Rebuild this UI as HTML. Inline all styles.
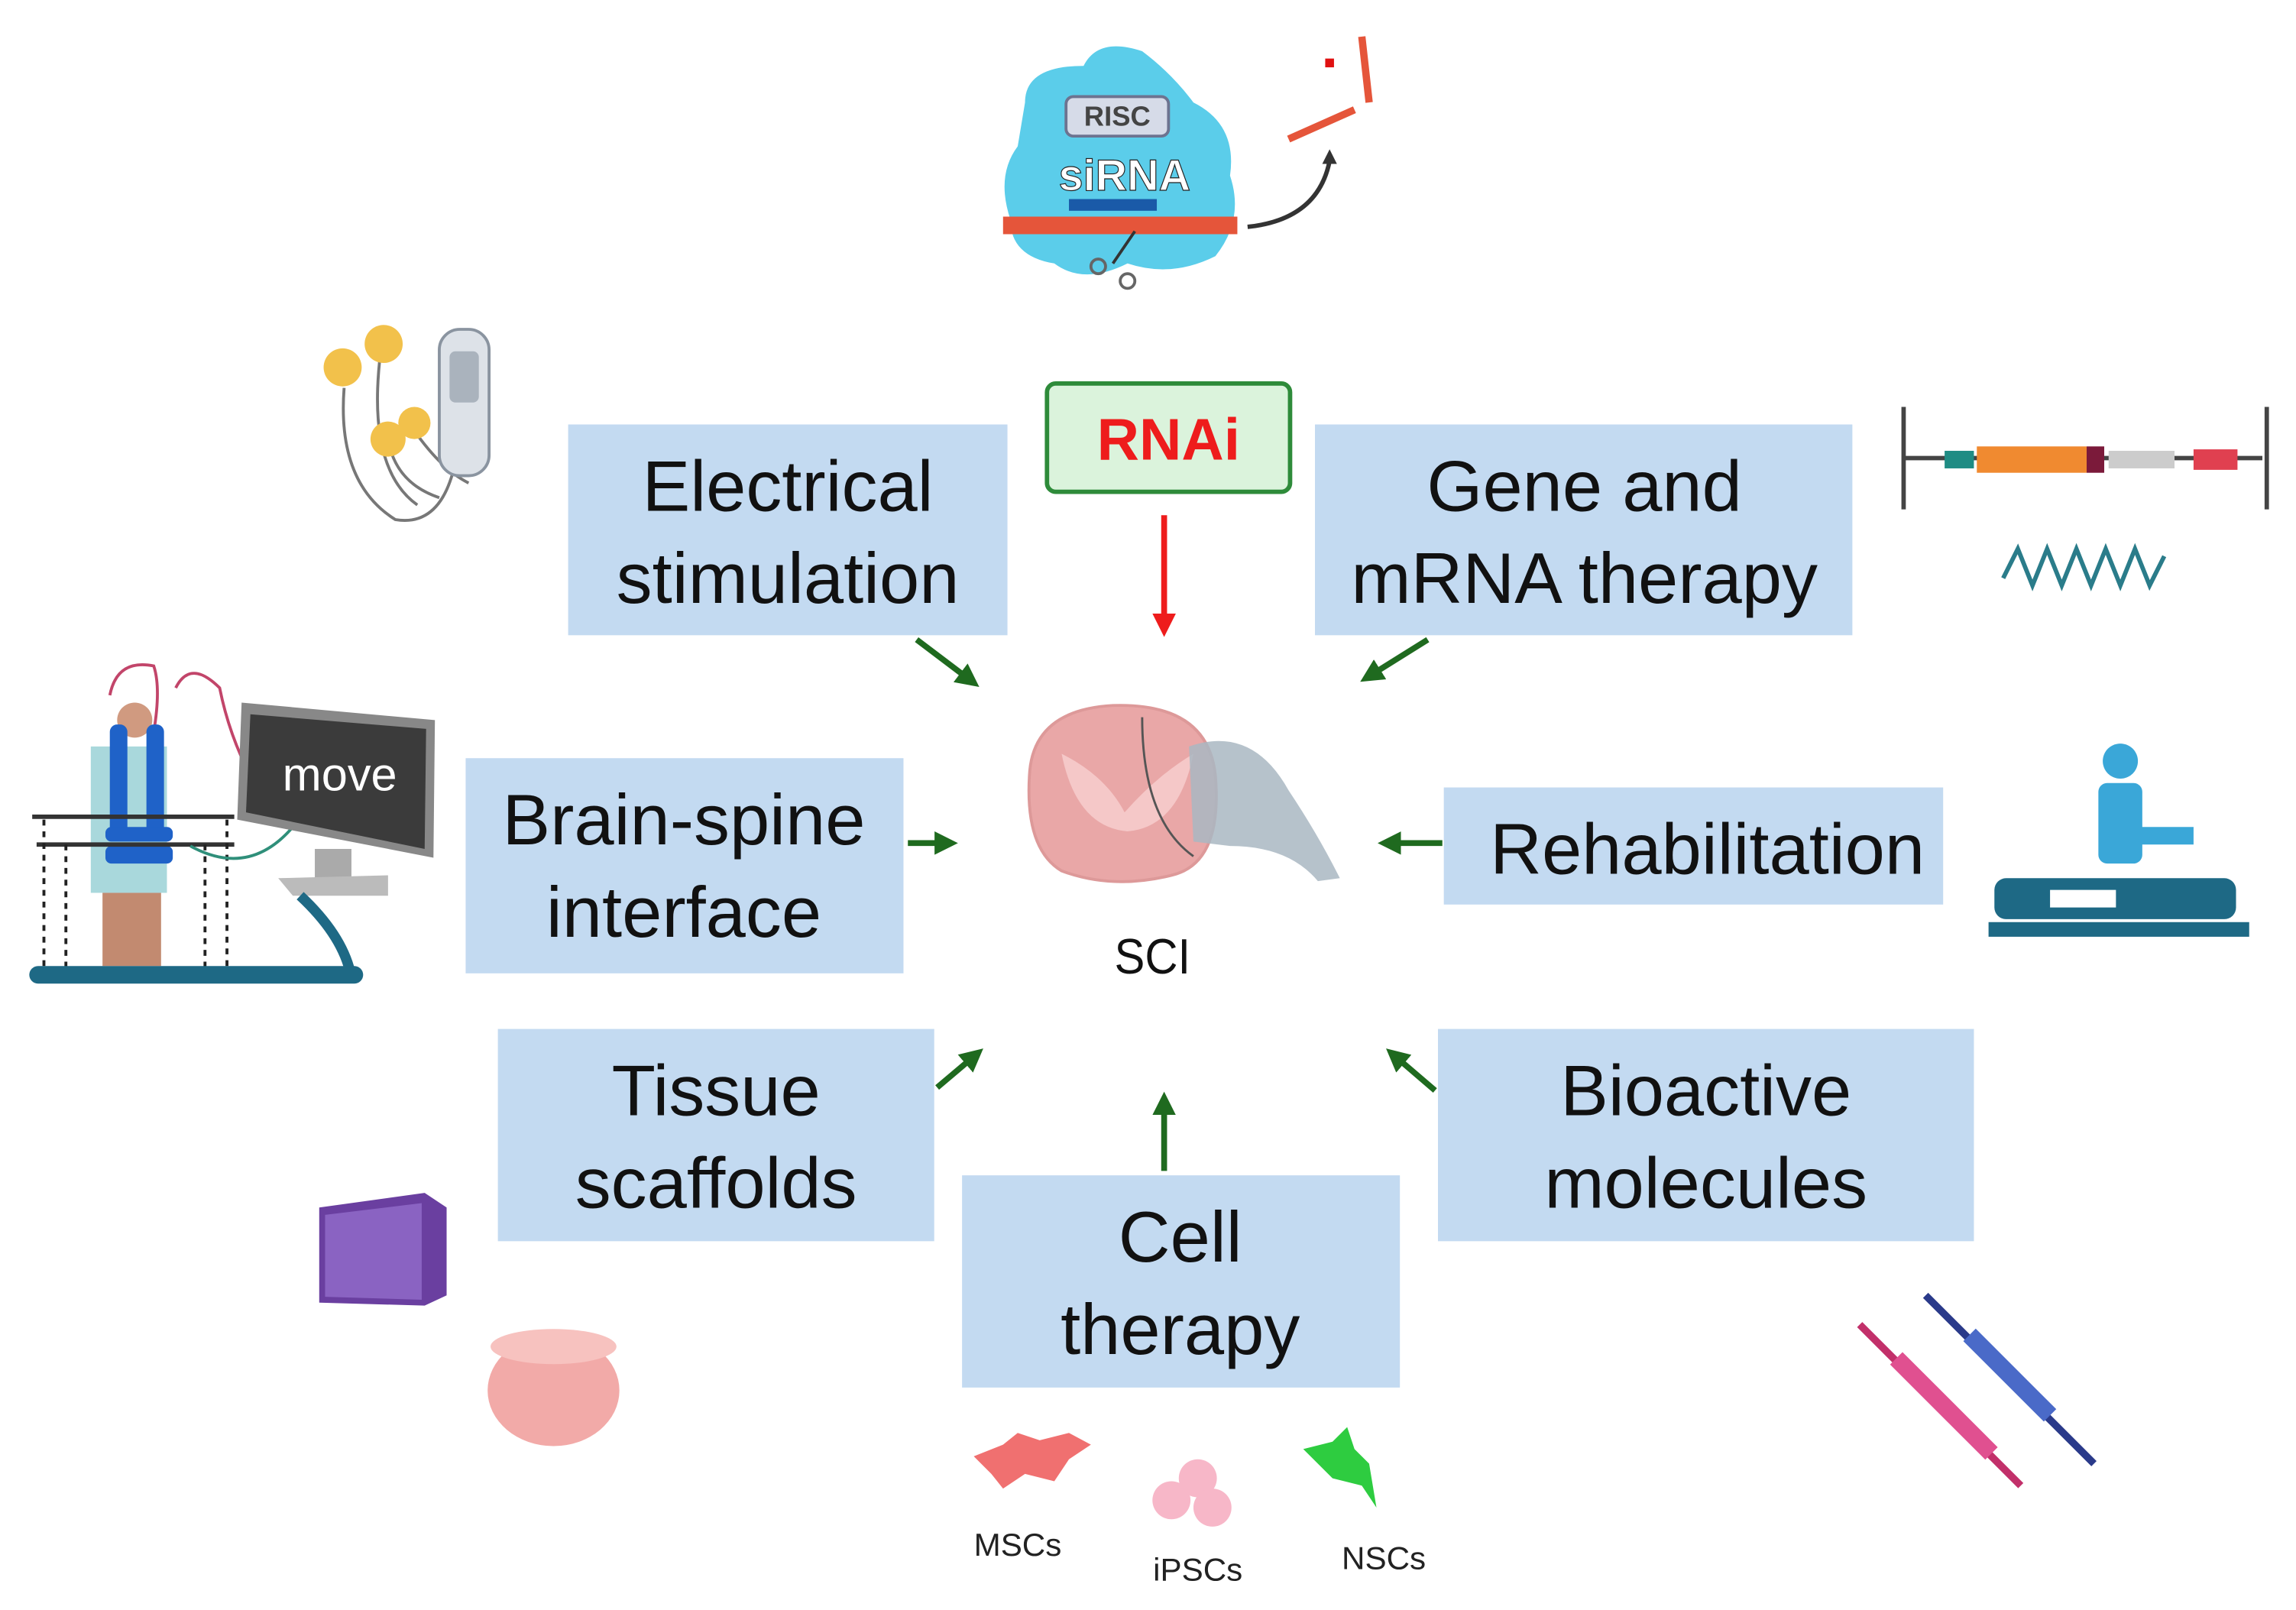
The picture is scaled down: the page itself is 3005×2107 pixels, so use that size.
<!DOCTYPE html>
<html><head><meta charset="utf-8"><style>
html,body{margin:0;padding:0;background:#fff;}
svg{display:block;}
text{font-family:"Liberation Sans",sans-serif;}
</style></head><body>
<svg width="3005" height="2107" viewBox="0 0 3005 2107" xmlns="http://www.w3.org/2000/svg">
<defs>
<marker id="ag" markerWidth="4" markerHeight="4" refX="2.2" refY="2" orient="auto" markerUnits="strokeWidth"><path d="M0,0 L4,2 L0,4 Z" fill="#1f6a1f"/></marker>
<marker id="ar" markerWidth="4" markerHeight="4" refX="2.2" refY="2" orient="auto" markerUnits="strokeWidth"><path d="M0,0 L4,2 L0,4 Z" fill="#ee1c1c"/></marker>
</defs>
<g transform="scale(1.9165 1.9155)">
<!-- siRNA top icon -->
<g>
<path d="M700,70 Q700,45 740,45 Q750,25 780,35 Q800,50 815,70 Q845,85 840,120 Q850,150 830,175 Q800,190 770,180 Q740,195 720,180 Q690,175 690,150 Q680,120 695,100 Z" fill="#5bcdea"/>
<rect x="728" y="66" width="70" height="27" rx="5" fill="#d6dbe8" stroke="#6d7390" stroke-width="2"/>
<text x="763" y="86" font-size="19" font-weight="bold" text-anchor="middle" fill="#444">RISC</text>
<text x="768" y="130" font-size="30" font-weight="bold" text-anchor="middle" fill="#fff" stroke="#222" stroke-width="0.6">siRNA</text>
<rect x="730" y="136" width="60" height="8" fill="#1a5aa8"/>
<rect x="685" y="148" width="160" height="12" fill="#e5553a"/>
<path d="M760,180 L775,158" stroke="#333" stroke-width="2"/>
<circle cx="750" cy="182" r="5" fill="none" stroke="#666" stroke-width="2"/>
<circle cx="770" cy="192" r="5" fill="none" stroke="#666" stroke-width="2"/>
<path d="M852,155 Q900,150 908,110" stroke="#333" stroke-width="3" fill="none"/>
<path d="M903,112 L908,102 L913,112" fill="#333"/>
<path d="M880,95 L925,75 M930,25 L935,70" stroke="#e5553a" stroke-width="5" fill="none"/>
<rect x="905" y="40" width="6" height="6" fill="#e01010"/>
</g>
<!-- electrodes icon -->
<g>
<path d="M235,265 Q230,330 270,355 Q300,360 310,320 M260,240 Q250,320 285,345 M265,300 Q270,330 300,340 M280,290 Q300,320 320,330" stroke="#777" stroke-width="2" fill="none"/>
<circle cx="234" cy="251" r="13" fill="#f2c14b"/><circle cx="262" cy="235" r="13" fill="#f2c14b"/>
<circle cx="265" cy="300" r="12" fill="#f2c14b"/><circle cx="283" cy="289" r="11" fill="#f2c14b"/>
<rect x="300" y="225" width="34" height="100" rx="14" fill="#dde2e8" stroke="#8a94a0" stroke-width="2"/>
<rect x="307" y="240" width="20" height="35" rx="4" fill="#aab3bd"/>
</g>
<!-- brain-spine icon -->
<g>
<path d="M75,475 Q80,450 105,455 Q110,470 105,500 M120,470 Q130,450 150,470 Q160,520 190,560" stroke="#c2456a" stroke-width="2" fill="none"/>
<rect x="62" y="510" width="52" height="100" fill="#a9d8dc"/>
<rect x="70" y="610" width="40" height="50" fill="#c28a70"/>
<circle cx="92" cy="492" r="12" fill="#d09a80"/>
<rect x="75" y="495" width="12" height="75" rx="5" fill="#1f62c8"/>
<rect x="100" y="495" width="12" height="75" rx="5" fill="#1f62c8"/>
<rect x="72" y="565" width="46" height="10" rx="4" fill="#1f62c8"/>
<rect x="72" y="578" width="46" height="12" rx="4" fill="#1f62c8"/>
<path d="M22,558 L160,558 M25,577 L160,577" stroke="#333" stroke-width="3"/>
<path d="M30,560 V662 M45,577 V662 M140,577 V662 M155,560 V662" stroke="#222" stroke-width="2" stroke-dasharray="4 4"/>
<path d="M130,578 Q170,600 200,565" stroke="#2f8f7a" stroke-width="2" fill="none"/>
<polygon points="165,480 297,492 296,586 162,560" fill="#888"/>
<polygon points="171,488 291,498 290,580 168,555" fill="#3b3b3b"/>
<text x="232" y="540" font-size="32" fill="#fff" text-anchor="middle">move</text>
<rect x="215" y="580" width="25" height="25" fill="#aaa"/>
<polygon points="190,600 265,598 265,612 200,612" fill="#bbb"/>
<path d="M205,612 Q235,640 240,668" stroke="#1e6985" stroke-width="7" fill="none"/>
<rect x="20" y="660" width="228" height="12" rx="6" fill="#1e6985"/>
</g>
<!-- gene therapy icon -->
<g>
<path d="M1300,278 V348 M1300,313 H1545 M1548,278 V348" stroke="#444" stroke-width="3" fill="none"/>
<rect x="1350" y="305" width="75" height="18" fill="#f08a30"/>
<rect x="1328" y="308" width="20" height="12" fill="#1f8c84"/>
<rect x="1425" y="305" width="12" height="18" fill="#7b1a3a"/>
<rect x="1440" y="308" width="45" height="12" fill="#ccc"/>
<rect x="1498" y="307" width="30" height="14" fill="#e04050"/>
<path d="M1368,395 l10,-20 l10,25 l10,-25 l10,25 l10,-25 l10,25 l10,-25 l10,25 l10,-25 l10,25 l10,-20" stroke="#2a7c8a" stroke-width="3" fill="none"/>
</g>
<!-- rehab icon -->
<g fill="#1e6985">
<circle cx="1448" cy="520" r="12" fill="#3aa7d8"/>
<rect x="1433" y="535" width="30" height="55" rx="6" fill="#3aa7d8"/>
<rect x="1460" y="565" width="38" height="12" fill="#3aa7d8"/>
<rect x="1362" y="600" width="165" height="28" rx="8"/>
<rect x="1358" y="630" width="178" height="10"/>
<rect x="1400" y="608" width="45" height="12" fill="#fff"/>
</g>
<!-- tissue scaffolds icons -->
<polygon points="218,825 290,815 305,825 305,885 290,892 218,890" fill="#6a3fa0"/>
<polygon points="222,830 288,822 288,888 222,886" fill="#8a63c2"/>
<ellipse cx="378" cy="950" rx="45" ry="38" fill="#f2aaa8"/>
<ellipse cx="378" cy="920" rx="43" ry="12" fill="#f7c2bf"/>
<!-- syringes -->
<g>
<path d="M1270,905 L1380,1015" stroke="#c2306a" stroke-width="5"/>
<path d="M1295,928 L1360,993" stroke="#e05090" stroke-width="12"/>
<path d="M1315,885 L1430,1000" stroke="#2a3a8a" stroke-width="5"/>
<path d="M1345,912 L1400,967" stroke="#4a6ac8" stroke-width="12"/>
</g>
<!-- cells -->
<g fill="#f07070"><path d="M665,995 l20,-8 l10,-8 l15,5 l20,-5 l15,8 l-15,10 l-10,15 l-20,-5 l-15,10 l-8,-10 z"/></g>
<g fill="#f7b7c8"><circle cx="800" cy="1025" r="13"/><circle cx="818" cy="1010" r="13"/><circle cx="828" cy="1030" r="13"/></g>
<g fill="#2ecc40"><path d="M890,990 l20,-5 l10,-10 l5,15 l10,10 l5,30 l-10,-15 l-20,-5 z"/></g>
<text x="695" y="1063" font-size="22" text-anchor="middle" fill="#222">MSCs</text>
<text x="818" y="1080" font-size="22" text-anchor="middle" fill="#222">iPSCs</text>
<text x="945" y="1072" font-size="22" text-anchor="middle" fill="#222">NSCs</text>
<!-- spinal cord -->
<g>
<path d="M703,530 Q705,485 760,482 Q825,480 830,530 Q835,590 800,598 Q760,608 725,595 Q700,580 703,530 Z" fill="#e9a7a7" stroke="#d99" stroke-width="2"/>
<path d="M725,515 Q755,530 768,555 Q790,530 815,515 Q805,565 770,568 Q735,565 725,515 Z" fill="#f5c8c8"/>
<path d="M812,510 Q855,495 880,540 Q900,570 915,600 L900,602 Q880,578 840,578 L815,575 Z" fill="#a9b7c2" opacity="0.85"/>
<path d="M780,490 Q780,560 815,585" stroke="#555" stroke-width="1.5" fill="none"/>
</g>
<text x="787" y="665" font-size="34" text-anchor="middle" fill="#111" textLength="52" lengthAdjust="spacingAndGlyphs">SCI</text>
<!-- boxes -->
<g fill="#c3daf1">
<rect x="388" y="290" width="300" height="144"/>
<rect x="898" y="290" width="367" height="144"/>
<rect x="318" y="518" width="299" height="147"/>
<rect x="986" y="538" width="341" height="80"/>
<rect x="340" y="703" width="298" height="145"/>
<rect x="657" y="803" width="299" height="145"/>
<rect x="982" y="703" width="366" height="145"/>
</g>
<rect x="715" y="262" width="166" height="74" rx="6" fill="#dbf3dc" stroke="#2e8b3a" stroke-width="3"/>
<text x="798" y="314" font-size="40" font-weight="bold" text-anchor="middle" fill="#ee1c1c">RNAi</text>
<g font-size="49" fill="#111" text-anchor="middle">
<text x="538" y="349">Electrical</text><text x="538" y="412">stimulation</text>
<text x="1082" y="349">Gene and</text><text x="1082" y="412">mRNA therapy</text>
<text x="467" y="577">Brain-spine</text><text x="467" y="640">interface</text>
<text x="1166" y="597">Rehabilitation</text>
<text x="489" y="762">Tissue</text><text x="489" y="825">scaffolds</text>
<text x="806" y="862">Cell</text><text x="806" y="925">therapy</text>
<text x="1165" y="762">Bioactive</text><text x="1165" y="825">molecules</text>
</g>
<!-- arrows -->
<line x1="795" y1="352" x2="795" y2="428" stroke="#ee1c1c" stroke-width="4" marker-end="url(#ar)"/>
<g stroke="#1f6a1f" stroke-width="4" marker-end="url(#ag)">
<line x1="626" y1="437" x2="663" y2="465"/>
<line x1="975" y1="437" x2="935" y2="462"/>
<line x1="620" y1="576" x2="647" y2="576"/>
<line x1="985" y1="576" x2="948" y2="576"/>
<line x1="640" y1="743" x2="666" y2="721"/>
<line x1="795" y1="800" x2="795" y2="753"/>
<line x1="980" y1="745" x2="952" y2="721"/>
</g>
</g>
</svg>
</body></html>
